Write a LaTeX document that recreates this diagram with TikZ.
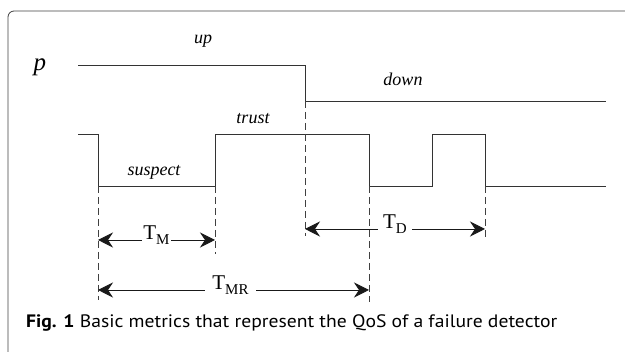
\documentclass[tikz,border=0pt]{standalone}
\usepackage{fontspec}
\setmainfont{Liberation Serif}
\newfontfamily\capfont{PT Sans}
\usetikzlibrary{arrows.meta}
\newcommand{\subtxt}[1]{\raisebox{-5pt}{\fontsize{15}{16}\selectfont #1}}
\begin{document}
\begin{tikzpicture}[x=1pt,y=-1pt,
  sig/.style={draw=black!80, line width=0.9pt},
  guide/.style={draw=black!75, line width=0.8pt, dash pattern=on 7pt off 4pt},
  dim/.style={draw=black!90, line width=0.9pt, {Stealth[length=15pt,width=15pt,inset=5pt]}-{Stealth[length=15pt,width=15pt,inset=5pt]}},
  lbl/.style={font=\fontsize{18}{20}\selectfont\itshape, inner sep=0pt, anchor=base},
  dlbl/.style={font=\fontsize{21}{22}\selectfont, fill=white, inner ysep=1pt, anchor=base}]
\useasboundingbox (0,0) rectangle (625,352);
\draw[black!75, line width=0.8pt, rounded corners=6pt] (8,360) -- (8,11) -- (640,11);
% labels
\node[lbl, font=\fontsize{25}{26}\selectfont\itshape] (p) at (40,71) {p};
\node[lbl] (up) at (203,44) {up};
\node[lbl] (down) at (403,86) {down};
\node[lbl] (trust) at (253,124) {trust};
\node[lbl] (suspect) at (154,176) {suspect};
% top signal
\coordinate (u0) at (78,65);
\coordinate (u1) at (305,65);
\coordinate (u2) at (305,101);
\coordinate (u3) at (606,101);
\draw[sig] (u0) -- (u1) -- (u2) -- (u3);
% lower signal
\coordinate (s0) at (78,134);
\coordinate (s1) at (98,134);
\coordinate (s2) at (98,186);
\coordinate (s3) at (215,186);
\coordinate (s4) at (215,134);
\coordinate (s5) at (369,134);
\coordinate (s6) at (369,186);
\coordinate (s7) at (432,186);
\coordinate (s8) at (432,134);
\coordinate (s9) at (485,134);
\coordinate (s10) at (485,186);
\coordinate (s11) at (606,186);
\draw[sig] (s0) -- (s1) -- (s2) -- (s3) -- (s4) -- (s5) -- (s6) -- (s7) -- (s8) -- (s9) -- (s10) -- (s11);
% dashed guides
\coordinate (d1) at (98,300);
\coordinate (d2) at (215,254);
\coordinate (d3) at (305,236);
\coordinate (d4) at (369,302);
\coordinate (d5) at (485,240);
\draw[guide] (s2) -- (d1);
\draw[guide] (s3) -- (d2);
\draw[guide] (u2) -- (d3);
\draw[guide] (s6) -- (d4);
\draw[guide] (s10) -- (d5);
% dimension arrows
\coordinate (m0) at (98,240);
\coordinate (m1) at (215,240);
\coordinate (t0) at (305,229);
\coordinate (t1) at (485,229);
\coordinate (r0) at (98,290);
\coordinate (r1) at (369,290);
\draw[dim] (m0) -- node[dlbl, inner xsep=1pt] (TM) {T\subtxt{M}} (m1);
\draw[dim] (t0) -- node[dlbl, inner xsep=5pt] (TD) {T\subtxt{D}} (t1);
\draw[dim] (r0) -- node[dlbl, inner xsep=7pt, xshift=-3pt] (TMR) {T\subtxt{MR}} (r1);
% caption
\node[anchor=base west, inner sep=0pt, font=\capfont\fontsize{18}{20}\selectfont] (cap) at (26,328) {\resizebox{531pt}{\height}{\textbf{Fig. 1} Basic metrics that represent the QoS of a failure detector}};
\end{tikzpicture}
\end{document}
